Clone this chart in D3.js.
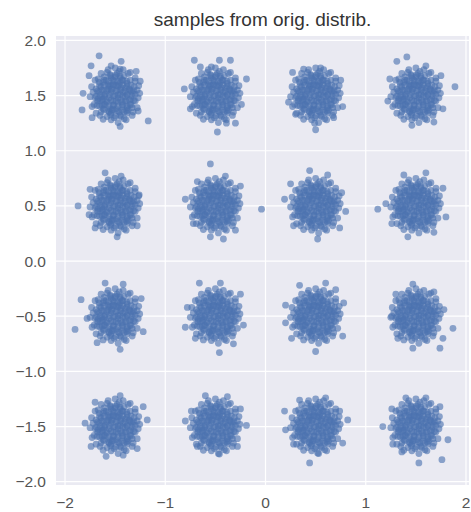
<!DOCTYPE html>
<html>
<head>
<meta charset="utf-8">
<script src="https://cdn.jsdelivr.net/npm/d3@7/dist/d3.min.js"></script>
<style>
  html, body { margin: 0; padding: 0; background: #fff; }
  svg { display: block; }
</style>
</head>
<body>
<svg id="chart" width="471" height="512"></svg>
<script>
// Mixture of 16 Gaussians on a 4x4 grid
const centersX = [-1.5, -0.5, 0.5, 1.5];
const centersY = [1.5, 0.5, -0.5, -1.5];

// Samples around each centre (offsets, data units)
const coreOffsets = [
  [0,0],[0.03,-0.02],[-0.04,0.03],[0.02,0.05],[-0.02,-0.05],[0.05,0.01],[-0.06,-0.02],
  [0.08,0.03],[-0.07,0.06],[0.01,0.09],[-0.02,-0.09],[0.06,0.07],[-0.08,-0.06],[0.07,-0.06],[-0.05,0.09],
  [0.12,0.01],[0.10,0.07],[0.05,0.12],[-0.01,0.13],[-0.07,0.10],[-0.11,0.05],[-0.13,-0.01],
  [-0.10,-0.08],[-0.05,-0.12],[0.01,-0.12],[0.07,-0.10],[0.11,-0.05],
  [0.16,0.04],[0.12,0.11],[0.05,0.16],[-0.04,0.16],[-0.12,0.12],[-0.16,0.03],[-0.15,-0.05],
  [-0.12,-0.12],[-0.04,-0.16],[0.04,-0.15],[0.12,-0.11],[0.16,-0.03],
  [0.20,0.01],[0.19,0.08],[0.15,0.14],[0.09,0.18],[0.02,0.20],[-0.05,0.19],[-0.11,0.17],
  [-0.16,0.12],[-0.19,0.06],[-0.20,-0.02],[-0.18,-0.09],[-0.14,-0.15],[-0.08,-0.19],
  [-0.01,-0.20],[0.06,-0.19],[0.12,-0.16],[0.17,-0.11],[0.20,-0.05],
  [0.22,0.05],[0.20,0.13],[0.13,0.20],[0.04,0.22],[-0.08,0.21],[-0.17,0.15],[-0.22,0.03],
  [-0.21,-0.08],[-0.15,-0.18],[-0.04,-0.22],[0.09,-0.21],[0.18,-0.15],[0.23,-0.02],
  [0.14,0.06],[-0.09,0.14],[0.09,-0.15],[-0.14,0.08],[0.03,-0.06],[-0.03,0.06],[0.15,-0.08],
  [-0.17,-0.03],[0.08,0.14],[-0.12,-0.03],[0.00,0.17],[0.18,0.02],[-0.06,-0.15],[0.04,0.10],
  [-0.10,0.01],[0.10,-0.01],[-0.03,-0.13],[0.13,-0.13],[-0.13,-0.09],[-0.02,0.10]
];

// Extra samples packing the dense middle of each blob
const innerOffsets = [
  [-0.045,0.18],[0.005,0.185],[0.05,0.175],
  [-0.11,0.14],[-0.065,0.13],[-0.02,0.14],[0.025,0.13],[0.07,0.14],[0.115,0.13],
  [-0.155,0.09],[-0.11,0.095],[-0.06,0.085],[-0.015,0.095],[0.03,0.085],[0.075,0.095],[0.12,0.085],[0.16,0.095],
  [-0.175,0.04],[-0.13,0.05],[-0.085,0.04],[-0.04,0.05],[0.01,0.04],[0.055,0.05],[0.1,0.04],[0.145,0.05],[0.185,0.045],
  [-0.19,-0.005],[-0.15,0.005],[-0.105,-0.005],[-0.06,0.005],[-0.015,-0.005],[0.03,0.005],[0.075,-0.005],[0.12,0.005],[0.165,-0.005],
  [-0.175,-0.05],[-0.13,-0.04],[-0.085,-0.05],[-0.04,-0.04],[0.01,-0.05],[0.055,-0.04],[0.1,-0.05],[0.145,-0.04],[0.185,-0.045],
  [-0.155,-0.095],[-0.11,-0.085],[-0.06,-0.095],[-0.015,-0.085],[0.03,-0.095],[0.075,-0.085],[0.12,-0.095],[0.16,-0.085],
  [-0.11,-0.13],[-0.065,-0.14],[-0.02,-0.13],[0.025,-0.14],[0.07,-0.13],[0.115,-0.14],
  [-0.045,-0.175],[0.005,-0.185],[0.05,-0.18]
];

// Samples in the fuzzy rim of each blob
const rimOffsets = [
  [0.245,0.02],[0.235,0.09],[0.20,0.16],[0.08,0.235],[0.00,0.25],[-0.07,0.235],
  [-0.14,0.20],[-0.235,0.08],[-0.25,-0.01],[-0.23,-0.10],[-0.19,-0.16],[-0.12,-0.215],
  [0.03,-0.245],[0.11,-0.22],[0.22,-0.11],[0.15,0.21],[-0.20,0.14],[0.17,-0.18]
];

// Loose outliers around each blob, row by row (top row first, left to right)
const strayOffsets = [
  [[-0.16,0.36],[-0.24,0.27],[-0.04,0.27],[0.06,0.31],[0.05,0.24],[0.21,0.22],[0.25,0.13],
   [-0.32,0.02],[-0.33,-0.13],[-0.23,-0.20],[0.05,-0.28],[0.33,-0.23],[-0.26,0.18],[0.23,-0.14]],
  [[-0.21,0.32],[0.04,0.32],[0.15,0.32],[-0.15,0.26],[-0.04,0.26],[0.31,0.15],[-0.31,0.06],
   [0.11,-0.25],[0.02,-0.33],[0.20,-0.25],[-0.25,-0.12],[0.26,-0.08]],
  [[-0.23,0.21],[-0.01,-0.25],[0.00,-0.31],[0.25,0.14],[0.27,-0.10],[-0.27,-0.06],[0.05,0.25],
   [-0.12,0.24],[0.18,-0.20],[-0.20,-0.17]],
  [[-0.19,0.31],[-0.09,0.35],[0.39,0.08],[-0.26,0.15],[0.10,0.27],[0.25,0.18],[-0.04,-0.27],
   [0.18,-0.24],[-0.28,-0.05],[0.27,-0.12]],
  [[-0.37,0.00],[-0.26,-0.08],[-0.10,0.30],[0.06,0.27],[0.24,0.10],[0.22,-0.18],[-0.20,-0.20],
   [0.02,-0.28],[-0.25,0.15]],
  [[-0.05,0.38],[0.46,-0.03],[-0.30,0.06],[-0.22,-0.16],[0.25,0.18],[0.20,-0.22],[-0.05,-0.28],
   [0.10,0.27],[-0.18,0.22],[0.08,-0.30]],
  [[-0.31,0.06],[-0.06,0.32],[0.12,0.28],[0.26,0.12],[0.24,-0.20],[-0.22,-0.18],[0.02,-0.30],
   [-0.25,0.20],[0.30,-0.05]],
  [[-0.38,-0.03],[-0.30,0.02],[-0.12,0.28],[0.10,0.30],[0.27,0.16],[0.30,-0.10],[0.18,-0.24],
   [-0.08,-0.28],[-0.24,-0.16]],
  [[-0.40,-0.12],[-0.34,0.15],[-0.10,0.30],[0.08,0.29],[0.26,0.16],[0.28,-0.14],[0.05,-0.30],
   [-0.18,-0.24],[-0.28,-0.02]],
  [[-0.16,0.30],[0.04,-0.33],[0.25,0.20],[-0.28,0.08],[0.28,-0.08],[-0.20,-0.20],[0.18,-0.25],
   [0.05,0.30],[-0.30,-0.10]],
  [[-0.16,0.28],[0.10,0.30],[0.27,-0.18],[-0.30,0.10],[0.28,0.12],[-0.24,-0.20],[0.00,-0.32],
   [-0.30,-0.06],[0.20,0.24]],
  [[-0.03,0.29],[-0.24,0.00],[0.37,-0.11],[0.27,-0.20],[0.24,-0.29],[-0.03,-0.29],[0.18,0.22],
   [-0.20,0.20],[-0.18,-0.20],[0.28,0.06]],
  [[-0.30,0.03],[-0.09,-0.27],[0.08,-0.26],[0.28,0.18],[0.32,0.06],[-0.20,0.22],[0.05,0.28],
   [-0.24,-0.18],[0.22,-0.20]],
  [[-0.30,0.05],[0.31,0.01],[-0.18,-0.18],[0.04,-0.25],[-0.10,0.28],[0.12,0.27],[0.22,-0.18],
   [0.25,0.16],[-0.24,0.14]],
  [[-0.31,0.14],[-0.30,-0.03],[-0.06,-0.33],[0.32,0.06],[0.27,-0.15],[0.02,-0.24],[-0.16,0.24],
   [0.10,0.26],[-0.22,-0.16],[0.24,0.14]],
  [[-0.33,0.00],[-0.23,-0.16],[0.03,-0.33],[0.26,-0.30],[0.32,-0.12],[-0.14,-0.23],[-0.10,0.26],
   [0.10,0.26],[0.24,0.18],[-0.24,0.16]]
];

const xTicks = [-2, -1, 0, 1, 2];
const yTicks = [2.0, 1.5, 1.0, 0.5, 0.0, -0.5, -1.0, -1.5, -2.0];
const titleText = "samples from orig. distrib.";

// Build the point table from the pieces above
const points = [];
centersY.forEach((cy, r) => {
  centersX.forEach((cx, c) => {
    const k = r * 4 + c;
    [coreOffsets, innerOffsets, rimOffsets, strayOffsets[k]].forEach(list =>
      list.forEach(([dx, dy]) => points.push({ x: cx + dx, y: cy + dy })));
  });
});

const svg = d3.select("#chart");
const plotL = 56, plotR = 469, plotT = 36, plotB = 485;

const x = d3.scaleLinear().domain([-2.09, 2.03]).range([plotL, plotR]);
const y = d3.scaleLinear().domain([-2.03, 2.04]).range([plotB, plotT]);

// Axes background
svg.append("rect")
  .attr("x", plotL).attr("y", plotT)
  .attr("width", plotR - plotL).attr("height", plotB - plotT)
  .attr("fill", "#EAEAF2");

// Grid lines
const grid = svg.append("g").attr("stroke", "#ffffff").attr("stroke-width", 1.2);
grid.selectAll("line.v").data(xTicks).join("line")
  .attr("class", "v")
  .attr("x1", d => x(d)).attr("x2", d => x(d))
  .attr("y1", plotT).attr("y2", plotB);
grid.selectAll("line.h").data(yTicks).join("line")
  .attr("class", "h")
  .attr("y1", d => y(d)).attr("y2", d => y(d))
  .attr("x1", plotL).attr("x2", plotR);

// Scatter
svg.append("g")
  .selectAll("circle").data(points).join("circle")
  .attr("cx", d => x(d.x))
  .attr("cy", d => y(d.y))
  .attr("r", 3.4)
  .attr("fill", "#4C72B0")
  .attr("fill-opacity", 0.62);

const minus = s => s.replace("-", "\u2212");
const font = "'Liberation Sans', Arial, sans-serif";

// Y tick labels
svg.append("g").selectAll("text").data(yTicks).join("text")
  .attr("x", 46)
  .attr("y", d => y(d))
  .attr("dy", "0.36em")
  .attr("text-anchor", "end")
  .attr("font-family", font)
  .attr("font-size", 15.5)
  .attr("fill", "#555555")
  .text(d => minus(d.toFixed(1)));

// X tick labels
svg.append("g").selectAll("text").data(xTicks).join("text")
  .attr("x", d => x(d))
  .attr("y", 502)
  .attr("dy", "0.36em")
  .attr("text-anchor", "middle")
  .attr("font-family", font)
  .attr("font-size", 15.5)
  .attr("fill", "#555555")
  .text(d => minus(String(d)));

// Title
svg.append("text")
  .attr("x", (plotL + plotR) / 2)
  .attr("y", 26)
  .attr("text-anchor", "middle")
  .attr("font-family", font)
  .attr("font-size", 19)
  .attr("fill", "#333333")
  .text(titleText);
</script>
</body>
</html>
